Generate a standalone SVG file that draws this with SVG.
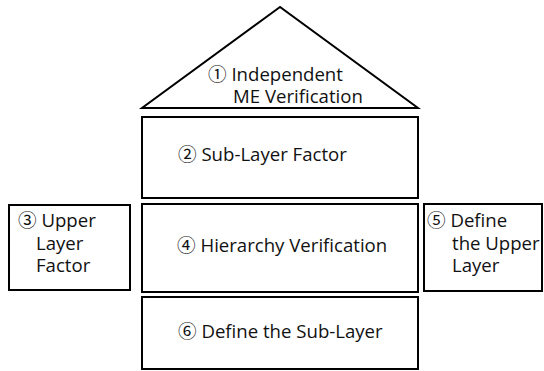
<svg xmlns="http://www.w3.org/2000/svg" width="544" height="371" viewBox="0 0 544 371">
<style>
.s{fill:#fff;stroke:#000;stroke-width:2}
.t{font-family:"Open Sans","Noto Sans CJK KR",sans-serif;font-size:18.6px;fill:#111}
</style>
<rect width="544" height="371" fill="#fff"/>
<g id="n1"><polygon class="s" points="280,7 142,108 418,108"/>
<text class="t" x="208" y="81">① Independent<tspan x="233" y="103">ME Verification</tspan></text></g>
<g id="n2"><rect class="s" x="142" y="117" width="276" height="81"/>
<text class="t" x="178" y="161">② Sub-Layer Factor</text></g>
<g id="n3"><rect class="s" x="9" y="205" width="121" height="85"/>
<text class="t" x="18" y="227">③ Upper<tspan x="36" y="250">Layer</tspan><tspan x="36" y="272">Factor</tspan></text></g>
<g id="n4"><rect class="s" x="142" y="204" width="276" height="88"/>
<text class="t" x="177" y="252">④ Hierarchy Verification</text></g>
<g id="n5"><rect class="s" x="424" y="204" width="118" height="87"/>
<text class="t" x="427" y="227">⑤ Define<tspan x="452" y="250">the Upper</tspan><tspan x="452" y="272">Layer</tspan></text></g>
<g id="n6"><rect class="s" x="142" y="297" width="276" height="72"/>
<text class="t" x="178" y="338">⑥ Define the Sub-Layer</text></g>
<g id="connectors"></g>
</svg>
